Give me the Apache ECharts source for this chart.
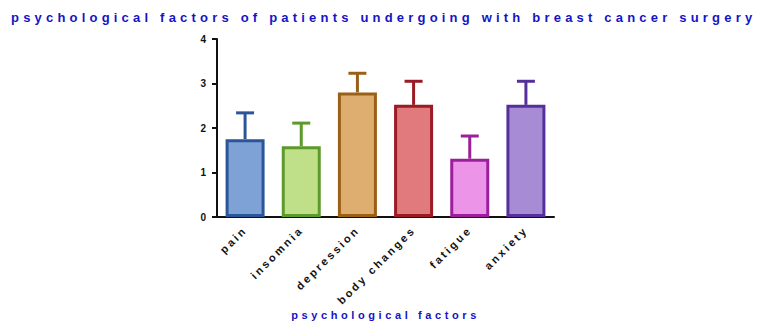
<!DOCTYPE html>
<html>
<head>
<meta charset="utf-8">
<script src="https://cdn.jsdelivr.net/npm/echarts@6/dist/echarts.min.js"></script>
<style>
  html, body { margin: 0; padding: 0; background: #ffffff; }
  #chart { width: 759px; height: 325px; }
</style>
</head>
<body>
<div id="chart"></div>
<script>
// Mean scores per psychological factor, with mean + SD for the error bars
const categories = ['pain', 'insomnia', 'depression', 'body changes', 'fatigue', 'anxiety'];
const meanValues = [1.75, 1.59, 2.80, 2.52, 1.31, 2.52];
const upperValues = [2.34, 2.11, 3.23, 3.05, 1.82, 3.05];
const fillColors = ['#7ea2d6', '#bfdf88', '#deae70', '#e07a7d', '#ec95e8', '#a78bd5'];
const edgeColors = ['#2b5596', '#5b9a2b', '#9a6016', '#9b1b24', '#9b1f9b', '#56309a'];
const yTicks = [0, 1, 2, 3, 4];

const titleText = 'psychological factors of patients undergoing with breast cancer surgery';
const axisNameText = 'psychological factors';
const FONT = 'Liberation Sans, Arial, sans-serif';

const chart = echarts.init(document.getElementById('chart'), null, { renderer: 'svg' });

chart.setOption({
  animation: false,
  backgroundColor: '#ffffff',
  title: {
    text: titleText,
    left: 6,
    top: 6,
    textStyle: { color: '#1414c6', fontSize: 13, fontWeight: 'bold', fontFamily: FONT }
  },
  grid: { left: 217, right: 205, top: 39, bottom: 107 },
  xAxis: {
    type: 'category',
    data: categories,
    name: axisNameText,
    nameLocation: 'middle',
    nameGap: 92,
    nameTextStyle: { color: '#1414c6', fontSize: 11, fontWeight: 'bold', fontFamily: FONT },
    axisLine: { lineStyle: { color: '#111', width: 2 } },
    axisTick: { alignWithLabel: true, length: 5, lineStyle: { color: '#111', width: 2 } },
    axisLabel: { rotate: 45, margin: 11, color: '#111', fontSize: 11, fontWeight: 'bold', fontFamily: FONT, interval: 0 }
  },
  yAxis: {
    type: 'value',
    min: yTicks[0],
    max: yTicks[yTicks.length - 1],
    interval: 1,
    axisLine: { show: true, lineStyle: { color: '#111', width: 2 } },
    axisTick: { show: true, length: 5, lineStyle: { color: '#111', width: 2 } },
    axisLabel: { margin: 11, color: '#111', fontSize: 10, fontWeight: 'bold', fontFamily: FONT },
    splitLine: { show: false }
  },
  series: [
    {
      type: 'custom',
      z: 1,
      renderItem: function (params, api) {
        const i = api.value(0);
        const base = api.coord([i, api.value(1)]);
        const top = api.coord([i, api.value(2)]);
        const half = 9;
        const style = { stroke: edgeColors[i], lineWidth: 3, fill: null };
        return {
          type: 'group',
          children: [
            { type: 'line', shape: { x1: base[0], y1: base[1], x2: top[0], y2: top[1] }, style: style },
            { type: 'line', shape: { x1: top[0] - half, y1: top[1], x2: top[0] + half, y2: top[1] }, style: style }
          ]
        };
      },
      data: categories.map((c, i) => [i, meanValues[i], upperValues[i]])
    },
    {
      type: 'bar',
      z: 2,
      barWidth: 39,
      data: meanValues.map((v, i) => ({
        value: v,
        itemStyle: { color: fillColors[i], borderColor: edgeColors[i], borderWidth: 3 }
      }))
    }
  ]
});

// Wide letter spacing on the drawn texts
function spaceLetters() {
  document.querySelectorAll('#chart svg text').forEach(function (t) {
    const s = t.textContent;
    let ls = '2.6px';
    if (s === titleText) ls = '4.2px';
    else if (s === axisNameText) ls = '3.6px';
    else if (/^\d+$/.test(s)) ls = '0px';
    t.setAttribute('letter-spacing', ls);
  });
}
spaceLetters();
chart.on('finished', spaceLetters);
</script>
</body>
</html>
